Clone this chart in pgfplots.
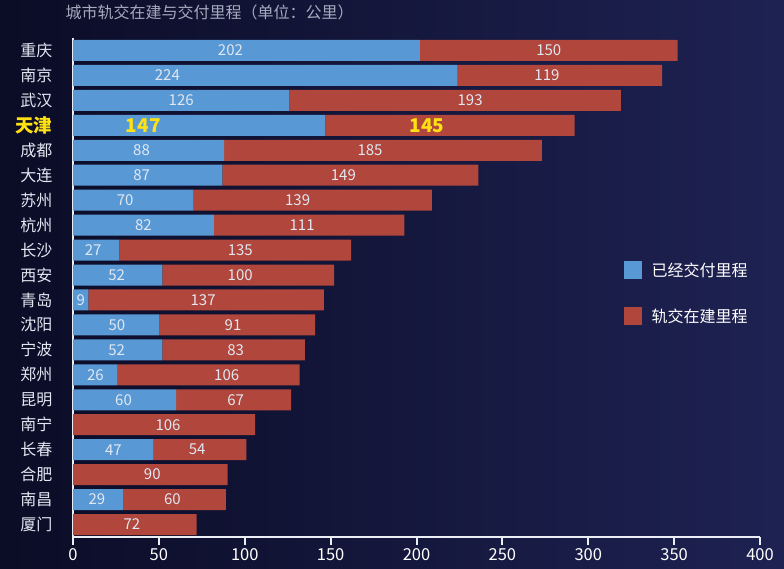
\documentclass[border=0pt]{standalone}
\usepackage{pgfplots}
\usepackage{pgfplotstable}
\pgfplotsset{compat=1.18}
\usepackage{fontspec}
\setmainfont{Noto Sans CJK SC}

\definecolor{bgL}{RGB}{11,12,38}
\definecolor{bgR}{RGB}{30,34,82}
\definecolor{barblue}{RGB}{88,152,212}
\definecolor{barred}{RGB}{176,70,60}
\definecolor{axiswhite}{RGB}{235,238,245}
\definecolor{lblwhite}{RGB}{225,232,242}
\definecolor{tjyellow}{RGB}{255,225,20}
\definecolor{titlegray}{RGB}{165,170,190}

% idx 0 = top bar; bo/ro = extra label offset (pt)
\pgfplotstableread{
idx b   r   bo  ro
0   202 150 -16 0
1   224 119 -98 -13
2   126 193 0   15
3   147 145 -56 -23
4   88  185 -7  -13
5   87  149 -6  -7
6   70  139 -8  -15
7   82  111 0   -7
8   27  135 -3  5
9   52  100 -1  -8
10  9   137 0   -3
11  50  91  1   -4
12  52  83  -1  2
13  26  106 0   18
14  60  67  -1  2
15  0   106 0   4
16  47  54  0   -3
17  0   90  0   2
18  29  60  -1  -2
19  0   72  0   -3
}\data

\pgfplotsset{
  seglabel/.style 2 args={
    visualization depends on={\thisrow{#1} \as \val},
    visualization depends on={\thisrow{#2} \as \off},
    visualization depends on={\thisrow{idx} \as \idx},
    nodes near coords={\ifdim\idx pt=3pt \textcolor{tjyellow}{\fontsize{19}{20}\selectfont\bfseries\pgfmathprintnumber{\val}}\else\ifdim\val pt>0pt \pgfmathprintnumber{\val}\fi\fi},
  },
  sqlegend/.style={legend image code/.code={\fill[##1] (0pt,-9pt) rectangle (18pt,9pt);}},
}

\begin{document}
\begin{tikzpicture}
\shade[left color=bgL, right color=bgR, use as bounding box] (0pt,0pt) rectangle (784pt,569pt);
\node[anchor=west, text=titlegray, font=\fontsize{16}{17}\selectfont] at (62pt,557pt) {城市轨交在建与交付里程（单位：公里）};
\begin{axis}[
  at={(73pt,32pt)}, anchor=south west,
  scale only axis, width=687pt, height=499pt,
  xbar stacked, bar width=21pt,
  xmin=0, xmax=400, ymin=-0.5, ymax=19.5,
  axis x line=bottom, axis y line=left,
  axis line style={-, line width=2.2pt, draw=axiswhite},
  xtick={0,50,...,400},
  ytick={0,...,19},
  yticklabels={厦门,南昌,合肥,长春,南宁,昆明,郑州,宁波,沈阳,青岛,西安,长沙,杭州,苏州,大连,成都,{\textcolor{tjyellow}{\fontsize{18.5}{19}\selectfont\bfseries 天津}},武汉,南京,重庆},
  ytick style={draw=none},
  extra y ticks={-0.5,0.5,...,19.5}, extra y tick labels={},
  extra y tick style={major tick length=12pt, tick style={line width=2pt, draw=axiswhite}},
  xtick style={line width=2pt, draw=axiswhite},
  major tick length=8pt, tick align=outside,
  xticklabel style={text=white, font=\fontsize{16.5}{17}\selectfont},
  yticklabel style={text=lblwhite, font=\fontsize{16}{17}\selectfont, xshift=-9pt},
  /pgf/number format/assume math mode=true,
  % stacked labels already sit mid-segment; only the small offsets are added
  every node near coord/.style={anchor=center, xshift={\off},
      text=lblwhite, font=\fontsize{15}{16}\selectfont},
  legend style={at={(0.797,0.558)}, anchor=north west, draw=none, fill=none,
    text=white, font=\fontsize{16}{17}\selectfont, row sep=27pt,
    /tikz/every odd column/.append style={column sep=8pt}},
  legend cell align=left,
  clip=false,
]
\addplot[fill=barblue, draw=none, seglabel={b}{bo}, sqlegend]
  table[x=b, y expr=19-\thisrow{idx}] {\data};
\addplot[fill=barred, draw=none, seglabel={r}{ro}, sqlegend]
  table[x=r, y expr=19-\thisrow{idx}] {\data};
\legend{已经交付里程, 轨交在建里程}
\end{axis}
\end{tikzpicture}
\end{document}
